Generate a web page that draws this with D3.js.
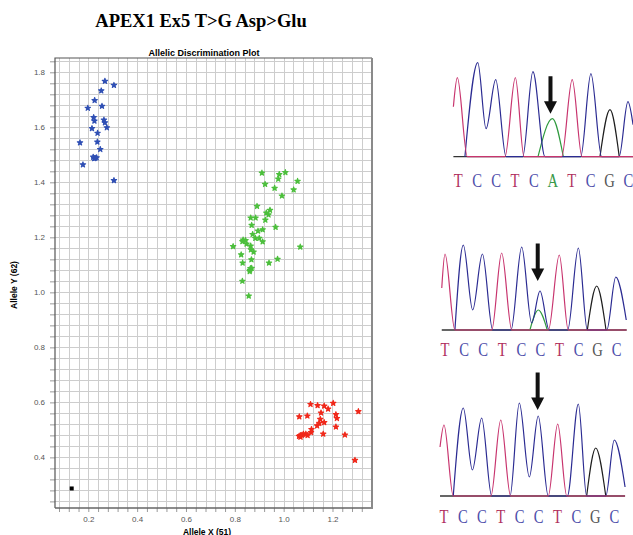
<!DOCTYPE html>
<html>
<head>
<meta charset="utf-8">
<script src="https://cdn.jsdelivr.net/npm/d3@7"></script>
<style>
  html, body { margin: 0; padding: 0; background: #fff; }
  svg { display: block; }
</style>
</head>
<body>
<svg id="fig" width="633" height="535"></svg>
<script>
// ---------- Allelic discrimination data: [Allele X (51), Allele Y (62)] ----------
const clusterY = [
  [0.268,1.768],[0.305,1.753],[0.253,1.733],[0.226,1.698],[0.256,1.677],[0.198,1.670],
  [0.222,1.636],[0.225,1.623],[0.264,1.627],[0.268,1.617],[0.215,1.596],[0.276,1.599],
  [0.238,1.579],[0.237,1.547],[0.166,1.544],[0.249,1.520],[0.220,1.492],[0.228,1.488],
  [0.234,1.490],[0.224,1.487],[0.178,1.464],[0.305,1.407]
];
const clusterXY = [
  [0.911,1.434],[0.982,1.429],[1.007,1.436],[0.978,1.412],[1.057,1.404],[0.924,1.393],
  [0.963,1.379],[1.041,1.373],[0.993,1.351],[0.891,1.313],[0.944,1.299],[0.929,1.289],
  [0.938,1.282],[0.865,1.271],[0.885,1.271],[0.925,1.263],[0.869,1.244],[0.967,1.237],
  [0.914,1.228],[0.895,1.223],[0.873,1.211],[0.884,1.197],[0.900,1.197],[0.914,1.184],
  [0.834,1.191],[0.844,1.189],[0.831,1.185],[0.848,1.176],[0.865,1.169],[0.793,1.167],
  [1.068,1.165],[0.866,1.155],[0.877,1.147],[0.826,1.137],[0.975,1.121],[0.868,1.119],
  [0.940,1.107],[0.832,1.107],[0.864,1.087],[0.869,1.088],[0.862,1.081],[0.861,1.076],
  [0.831,1.041],[0.857,0.987]
];
const clusterX = [
  [1.110,0.593],[1.139,0.589],[1.166,0.587],[1.203,0.597],[1.182,0.576],[1.153,0.562],
  [1.306,0.567],[1.064,0.548],[1.097,0.551],[1.214,0.556],[1.218,0.542],[1.150,0.539],
  [1.166,0.527],[1.146,0.524],[1.137,0.515],[1.214,0.511],[1.114,0.502],[1.112,0.491],
  [1.162,0.485],[1.251,0.482],[1.063,0.477],[1.069,0.474],[1.075,0.481],[1.081,0.485],
  [1.091,0.485],[1.098,0.480],[1.068,0.480],[1.292,0.390]
];
const noTemplateControl = [[0.132,0.287]];

const xTickLabels = [0.2, 0.4, 0.6, 0.8, 1.0, 1.2];
const yTickLabels = [0.4, 0.6, 0.8, 1.0, 1.2, 1.4, 1.6, 1.8];

// ---------- Sequencing reads: [base position, signal] per dye channel ----------
const bases = ["T","C","C","T","C","A","T","C","G","C"];
const basesRef = ["T","C","C","T","C","C","T","C","G","C"];

const read1T = [[-0.26,50],[-0.05,79],[0.48,0],[2.47,0],[3.02,79],[3.48,0],[5.47,0],[6.03,77],[6.55,0],[9.25,0]];
const read1C = [[0.35,0],[1.03,94],[1.47,28],[1.98,77],[2.53,0],[3.41,0],[3.95,85],[4.59,0],[6.48,0],[7.02,83],[7.59,0],[8.51,0],[8.98,55],[9.25,32]];
const read1A = [[4.22,0],[4.98,38],[5.56,0]];
const read1G = [[7.50,0],[8.03,47],[8.52,0]];

const read2T = [[-0.17,42],[0.00,76],[0.52,0],[2.45,0],[2.97,77],[3.50,0],[5.42,0],[5.99,75],[6.46,0],[9.52,0]];
const read2C = [[0.52,0],[0.96,85],[1.45,20],[1.96,76],[2.50,0],[3.46,0],[4.02,83],[4.54,7],[4.98,39],[5.46,0],[6.43,0],[6.99,82],[7.46,0],[8.48,0],[8.95,53],[9.50,10]];
const read2A = [[4.45,0],[4.89,20],[5.36,0]];
const read2G = [[7.46,0],[7.95,44],[8.44,0]];

const read3T = [[-0.21,49],[0.00,71],[0.49,0],[2.48,0],[3.00,76],[3.52,0],[5.51,0],[6.01,72],[6.49,0],[9.57,0]];
const read3C = [[0.49,0],[1.02,88],[1.50,26],[1.99,78],[2.52,0],[3.49,0],[3.98,93],[4.51,19],[4.98,80],[5.51,0],[6.52,0],[7.10,92],[7.54,0],[8.55,0],[9.00,56],[9.57,9]];
const read3A = [];
const read3G = [[7.54,0],[8.02,48],[8.55,0]];

// variant position and the signal level the arrow points down to
const variantIndex = 5;
const arrowTips = [43, 49, 86];

// ---------- Drawing ----------
const svg = d3.select("#fig");

// Figure title
svg.append("text")
  .attr("x", 201).attr("y", 27)
  .attr("text-anchor", "middle")
  .style("font-family", "'Liberation Serif','Times New Roman',serif")
  .style("font-weight", "bold").style("font-size", "18.5px")
  .text("APEX1 Ex5 T>G Asp>Glu");

// Scatter plot frame
const plot = { left: 55, top: 58, right: 372, bottom: 508 };
const x = d3.scaleLinear().domain([0.0636, 1.3618]).range([plot.left, plot.right]);
const y = d3.scaleLinear().domain([0.216, 1.852]).range([plot.bottom, plot.top]);

const xGrid = d3.range(2, 35).map(i => +(i * 0.04).toFixed(2));
const yGrid = d3.range(6, 47).map(i => +(i * 0.04).toFixed(2));
const isLabel = (list, d) => list.some(v => Math.abs(v - d) < 1e-6);

svg.append("rect")
  .attr("x", plot.left).attr("y", plot.top)
  .attr("width", plot.right - plot.left).attr("height", plot.bottom - plot.top)
  .attr("fill", "#fff");

const grid = svg.append("g").attr("stroke", "#cdcdcd").attr("stroke-width", 1);
grid.selectAll("line.v").data(xGrid.filter(d => x(d) < plot.right - 1)).join("line")
  .attr("x1", d => Math.round(x(d)) + 0.5).attr("x2", d => Math.round(x(d)) + 0.5)
  .attr("y1", plot.top).attr("y2", plot.bottom);
grid.selectAll("line.h").data(yGrid.filter(d => y(d) > plot.top + 1)).join("line")
  .attr("y1", d => Math.round(y(d)) + 0.5).attr("y2", d => Math.round(y(d)) + 0.5)
  .attr("x1", plot.left).attr("x2", plot.right);

// Axes
const fmt = d => d.toFixed(1);
const xAxis = d3.axisBottom(x)
  .tickValues(xGrid.filter(d => x(d) < plot.right - 1))
  .tickSize(4).tickPadding(4)
  .tickFormat(d => isLabel(xTickLabels, d) ? fmt(d) : "");
const yAxis = d3.axisLeft(y)
  .tickValues(yGrid.filter(d => y(d) > plot.top + 1))
  .tickSize(5).tickPadding(5)
  .tickFormat(d => isLabel(yTickLabels, d) ? fmt(d) : "");

function styleAxis(g) {
  g.select(".domain").remove();
  g.selectAll(".tick line").attr("stroke", "#9a9a9a");
  g.selectAll(".tick text")
    .attr("fill", "#555")
    .style("font-family", "Arial, 'Liberation Sans', sans-serif")
    .style("font-size", "8px");
}
svg.append("g").attr("transform", `translate(0,${plot.bottom})`).call(xAxis).call(styleAxis);
svg.append("g").attr("transform", `translate(${plot.left},0)`).call(yAxis).call(styleAxis);

// Plot border
svg.append("path")
  .attr("d", `M${plot.left},${plot.bottom}V${plot.top}H${plot.right}`)
  .attr("fill", "none").attr("stroke", "#555").attr("stroke-width", 1.2);
svg.append("line")
  .attr("x1", plot.left).attr("x2", plot.right + 1)
  .attr("y1", plot.bottom).attr("y2", plot.bottom)
  .attr("stroke", "#666").attr("stroke-width", 1.5);
svg.append("line")
  .attr("x1", plot.right).attr("x2", plot.right)
  .attr("y1", plot.top).attr("y2", plot.bottom)
  .attr("stroke", "#8a8a8a").attr("stroke-width", 2);

// Plot and axis titles
const sans = "Arial, 'Liberation Sans', sans-serif";
svg.append("text")
  .attr("x", 204).attr("y", 55.5).attr("text-anchor", "middle")
  .style("font-family", sans).style("font-weight", "bold").style("font-size", "9px")
  .text("Allelic Discrimination Plot");
svg.append("text")
  .attr("x", 207).attr("y", 534.5).attr("text-anchor", "middle")
  .style("font-family", sans).style("font-weight", "bold").style("font-size", "8.5px")
  .text("Allele X (51)");
svg.append("text")
  .attr("transform", "translate(17,285) rotate(-90)").attr("text-anchor", "middle")
  .style("font-family", sans).style("font-weight", "bold").style("font-size", "8.5px")
  .text("Allele Y (62)");

// Genotype calls
const star = d3.symbol().type(d3.symbolStar).size(9);
const clusters = [
  { pts: clusterY, color: "#2f4fb4" },
  { pts: clusterXY, color: "#4cbf3c" },
  { pts: clusterX, color: "#f0281a" }
];
clusters.forEach(c => {
  svg.append("g").selectAll("path").data(c.pts).join("path")
    .attr("transform", d => `translate(${x(d[0])},${y(d[1])})`)
    .attr("d", star)
    .attr("fill", c.color).attr("stroke", c.color).attr("stroke-width", 1.1)
    .attr("stroke-linejoin", "round");
});
svg.append("g").selectAll("rect").data(noTemplateControl).join("rect")
  .attr("x", d => x(d[0]) - 2).attr("y", d => y(d[1]) - 2)
  .attr("width", 4).attr("height", 4).attr("fill", "#000");

// ---------- Chromatograms ----------
const dyeColor = { T: "#c8346e", C: "#2b2b92", A: "#2f9a3e", G: "#1e1e1e" };
const letterColor = { T: "#b0305e", C: "#4d4daa", A: "#3a9a4a", G: "#555" };

const reads = [
  { seq: bases,    traces: { G: read1G, A: read1A, C: read1C, T: read1T },
    x0: 458.3, step: 18.89, base: 156.7, letterY: 186.5, span: [-0.26, 9.25], tip: arrowTips[0], arrowDx: -0.12 },
  { seq: basesRef, traces: { G: read2G, A: read2A, C: read2C, T: read2T },
    x0: 445.0, step: 19.08, base: 330.0, letterY: 356.0, span: [-0.17, 9.52], tip: arrowTips[1], arrowDx: -0.14 },
  { seq: basesRef, traces: { G: read3G, A: read3A, C: read3C, T: read3T },
    x0: 444.0, step: 18.92, base: 496.0, letterY: 522.5, span: [-0.21, 9.57], tip: arrowTips[2], arrowDx: -0.05 }
];

reads.forEach(r => {
  const rx = d3.scaleLinear().domain([0, 9]).range([r.x0, r.x0 + 9 * r.step]);
  const ry = d3.scaleLinear().domain([0, 100]).range([r.base, r.base - 100]);
  const g = svg.append("g");

  g.append("line")
    .attr("x1", rx(r.span[0])).attr("x2", rx(r.span[1]))
    .attr("y1", r.base).attr("y2", r.base)
    .attr("stroke", "#333").attr("stroke-width", 1.3);

  const line = d3.line().x(d => rx(d[0])).y(d => ry(d[1])).curve(d3.curveMonotoneX);
  ["G", "A", "C", "T"].forEach(k => {
    const pts = r.traces[k];
    if (!pts.length) return;
    g.append("path").attr("d", line(pts))
      .attr("fill", "none").attr("stroke", dyeColor[k]).attr("stroke-width", 1.2);
  });

  // base calls, set in a slightly condensed serif
  g.selectAll("text").data(r.seq).join("text")
    .attr("transform", (d, i) => `translate(${rx(i)},${r.letterY}) scale(0.75,1)`)
    .attr("text-anchor", "middle")
    .style("font-family", "'Liberation Serif','Times New Roman',serif")
    .style("font-size", "19.5px")
    .attr("fill", d => letterColor[d])
    .text(d => d);

  // arrow marking the variant base
  const ax = rx(variantIndex + r.arrowDx);
  const tipY = ry(r.tip);
  const headH = 12.5, shaftH = 25, headW = 6.5, shaftW = 2;
  g.append("path")
    .attr("d", `M${ax - shaftW},${tipY - headH - shaftH}H${ax + shaftW}V${tipY - headH}H${ax + headW}L${ax},${tipY}L${ax - headW},${tipY - headH}H${ax - shaftW}Z`)
    .attr("fill", "#111");
});
</script>
</body>
</html>
